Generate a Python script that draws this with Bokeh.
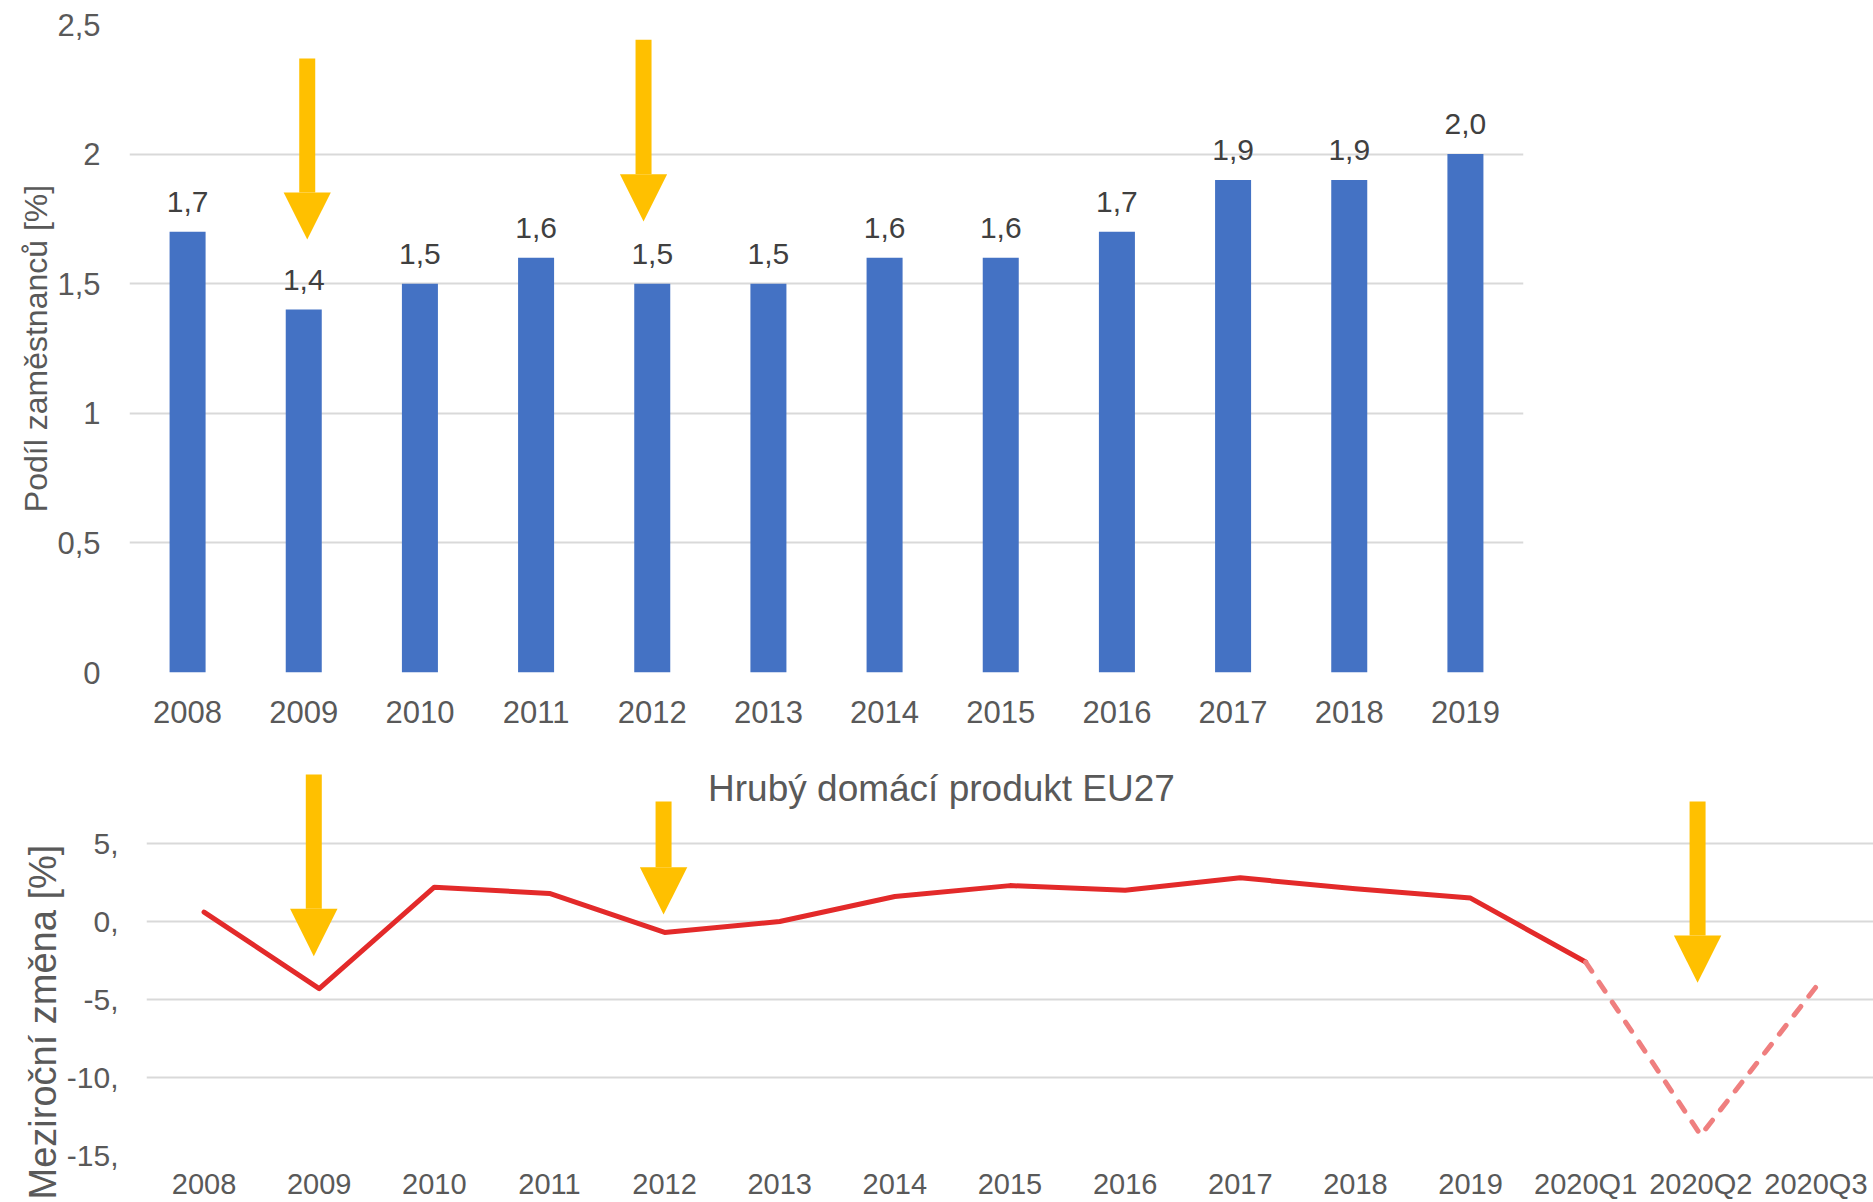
from bokeh.plotting import figure
from bokeh.models import Range1d, FixedTicker, Label
from bokeh.embed import file_html
from bokeh.resources import INLINE
from bokeh.core.properties import value

# ---------------- data ----------------
years = ["2008", "2009", "2010", "2011", "2012", "2013",
         "2014", "2015", "2016", "2017", "2018", "2019"]
employee_share = [1.7, 1.4, 1.5, 1.6, 1.5, 1.5, 1.6, 1.6, 1.7, 1.9, 1.9, 2.0]
share_ticks = [0, 0.5, 1, 1.5, 2, 2.5]
share_tick_labels = ["0", "0,5", "1", "1,5", "2", "2,5"]

gdp_periods = years + ["2020Q1", "2020Q2", "2020Q3"]
gdp_change = [0.6, -4.3, 2.2, 1.8, -0.7, 0.0, 1.6, 2.3, 2.0, 2.8, 2.1, 1.5,
              -2.6, -13.7, -4.2]
gdp_ticks = [-15, -10, -5, 0, 5]
gdp_tick_labels = ["-15,", "-10,", "-5,", "0,", "5,"]

# arrow annotations: x position, shaft top, head base, tip (data units)
top_arrow_x = [1.03, 3.925]
top_arrow_top = [2.369, 2.441]
top_arrow_base = [1.852, 1.922]
top_arrow_tip = [1.671, 1.740]

bot_arrow_x = [0.953, 3.991, 12.972]
bot_arrow_top = [9.42, 7.69, 7.69]
bot_arrow_base = [0.81, 3.48, -0.90]
bot_arrow_tip = [-2.22, 0.45, -3.93]

FONT = "Liberation Sans"
GREY = "#595959"
GRID = "#D9D9D9"
ARROW = "#FFC000"


def style(p, xt, xlabels, yt, ylabels, y_standoff):
    p.outline_line_color = None
    p.background_fill_color = "white"
    p.xgrid.grid_line_color = None
    p.ygrid.grid_line_color = GRID
    p.ygrid.grid_line_width = 2
    for ax in (p.xaxis[0], p.yaxis[0]):
        ax.axis_line_color = None
        ax.major_tick_line_color = None
        ax.minor_tick_line_color = None
        ax.major_tick_out = 0
        ax.major_tick_in = 0
        ax.major_label_text_font = FONT
        ax.major_label_text_color = GREY
    p.xaxis.ticker = FixedTicker(ticks=xt)
    p.xaxis.major_label_overrides = {t: l for t, l in zip(xt, xlabels)}
    p.yaxis.ticker = FixedTicker(ticks=yt)
    p.yaxis.major_label_overrides = {t: l for t, l in zip(yt, ylabels)}
    p.yaxis.major_label_standoff = y_standoff


def draw_arrows(p, xs, tops, bases, tips, half_w):
    p.segment(x0=xs, y0=bases, x1=xs, y1=tops, line_width=16,
              line_color=ARROW, line_cap="butt")
    p.patches(xs=[[x - half_w, x + half_w, x] for x in xs],
              ys=[[b, b, t] for b, t in zip(bases, tips)],
              fill_color=ARROW, line_color=None)


# ---------------- top chart ----------------
idx_top = list(range(len(years)))
p1 = figure(width=1873, height=740,
            x_range=Range1d(-0.5, len(years) - 0.5), y_range=Range1d(0, 2.5),
            output_backend="svg", toolbar_location=None,
            min_border_left=129, min_border_right=350,
            min_border_top=24, min_border_bottom=68)
style(p1, idx_top, years, share_ticks, share_tick_labels, 29)
p1.xaxis.major_label_text_font_size = "31px"
p1.yaxis.major_label_text_font_size = "31px"
p1.xaxis.major_label_standoff = 28
p1.yaxis.axis_label = "Podíl zaměstnanců [%]"
p1.yaxis.axis_label_text_font = FONT
p1.yaxis.axis_label_text_font_style = "normal"
p1.yaxis.axis_label_text_color = GREY
p1.yaxis.axis_label_text_font_size = "32px"
p1.yaxis.axis_label_standoff = 0

p1.vbar(x=idx_top, top=employee_share, width=0.31, fill_color="#4472C4", line_color=None)
share_labels = [f"{v:.1f}".replace(".", ",") for v in employee_share]
p1.text(x=idx_top, y=employee_share, text=share_labels, y_offset=-30,
        text_align="center", text_baseline="alphabetic",
        text_font=value(FONT), text_font_size="30px", text_color="#404040")
draw_arrows(p1, top_arrow_x, top_arrow_top, top_arrow_base, top_arrow_tip, 0.203)

# ---------------- bottom chart ----------------
idx_bot = list(range(len(gdp_periods)))
p2 = figure(width=1873, height=462,
            x_range=Range1d(-0.5, len(gdp_periods) - 0.5), y_range=Range1d(-15, 10),
            output_backend="svg", toolbar_location=None,
            title="Meziroční změna [%]", title_location="left",
            min_border_left=146, min_border_right=0,
            min_border_top=25, min_border_bottom=47)
style(p2, idx_bot, gdp_periods, gdp_ticks, gdp_tick_labels, 28)
p2.xaxis.major_label_text_font_size = "29px"
p2.yaxis.major_label_text_font_size = "30px"
p2.xaxis.major_label_standoff = 12
# the vertical axis title of the lower chart sits lower than the frame centre
p2.title.text_font = FONT
p2.title.text_font_size = "38px"
p2.title.text_font_style = "normal"
p2.title.text_color = GREY
p2.title.align = "left"
p2.title.offset = -44
p2.title.vertical_align = "bottom"
p2.title.standoff = 0

n_solid = len(years) + 1  # through 2020Q1
p2.line(x=idx_bot[:n_solid], y=gdp_change[:n_solid], line_color="#E32A2A",
        line_width=5, line_join="round", line_cap="round")
p2.line(x=idx_bot[n_solid - 1:], y=gdp_change[n_solid - 1:], line_color="#EF7F7F",
        line_width=5, line_dash="11 13", line_cap="round", line_join="round")
draw_arrows(p2, bot_arrow_x, bot_arrow_top, bot_arrow_base, bot_arrow_tip, 0.206)

p2.add_layout(Label(x=6.405, y=8.53, text="Hrubý domácí produkt EU27",
                    text_font=FONT, text_font_size="37px", text_color=GREY,
                    text_align="center", text_baseline="alphabetic"))

open("out.html", "w").write(file_html([p1, p2], INLINE))
